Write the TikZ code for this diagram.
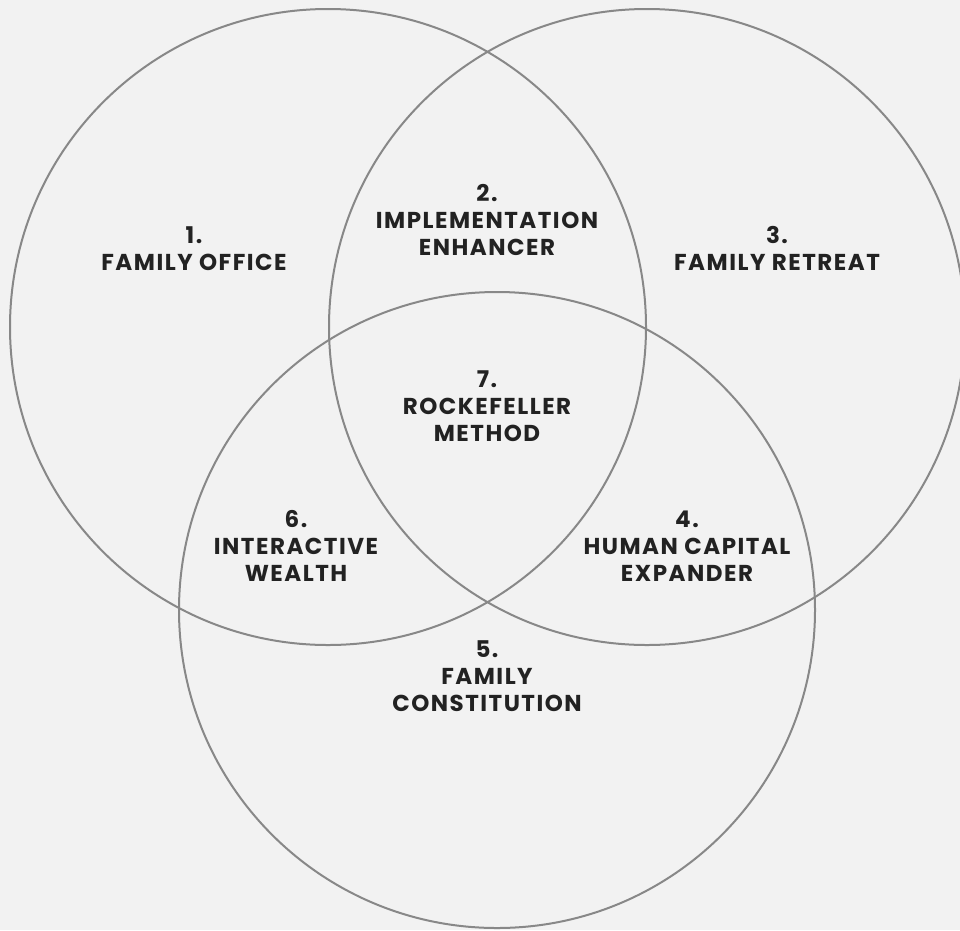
\documentclass[tikz,border=0pt]{standalone}
\usepackage{fontspec}
\setmainfont{Poppins}[LetterSpace=6.5]
\definecolor{bgc}{HTML}{F2F2F2}
\definecolor{ringc}{HTML}{888888}
\definecolor{txtc}{HTML}{222222}
\begin{document}
\begin{tikzpicture}[x=1pt,y=-1pt,
  ring/.style={draw=ringc,line width=2pt},
  lbl/.style={anchor=base,inner sep=0pt,text=txtc,font=\fontsize{23}{27}\selectfont\bfseries}]
\fill[bgc] (0,0) rectangle (960,930);
\useasboundingbox (0,0) rectangle (960,930);
\draw[ring] (328,327) circle[radius=318pt];
\draw[ring] (647,327) circle[radius=318pt];
\draw[ring] (497,610) circle[radius=318pt];
% 1
\node[lbl] (l1a) at (194,243) {1.};
\node[lbl] (l1b) at (194,270) {FAMILY OFFICE};
% 2
\node[lbl] (l2a) at (487,201) {2.};
\node[lbl] (l2b) at (487,228) {IMPLEMENTATION};
\node[lbl] (l2c) at (487,255) {ENHANCER};
% 3
\node[lbl] (l3a) at (777,243) {3.};
\node[lbl] (l3b) at (777,270) {FAMILY RETREAT};
% 7
\node[lbl] (l7a) at (487,387) {7.};
\node[lbl] (l7b) at (487,414) {ROCKEFELLER};
\node[lbl] (l7c) at (487,441) {METHOD};
% 6
\node[lbl] (l6a) at (296,527) {6.};
\node[lbl] (l6b) at (296,554) {INTERACTIVE};
\node[lbl] (l6c) at (296,581) {WEALTH};
% 4
\node[lbl] (l4a) at (687,527) {4.};
\node[lbl] (l4b) at (687,554) {HUMAN CAPITAL};
\node[lbl] (l4c) at (687,581) {EXPANDER};
% 5
\node[lbl] (l5a) at (487,657) {5.};
\node[lbl] (l5b) at (487,684) {FAMILY};
\node[lbl] (l5c) at (487,711) {CONSTITUTION};
\end{tikzpicture}
\end{document}
